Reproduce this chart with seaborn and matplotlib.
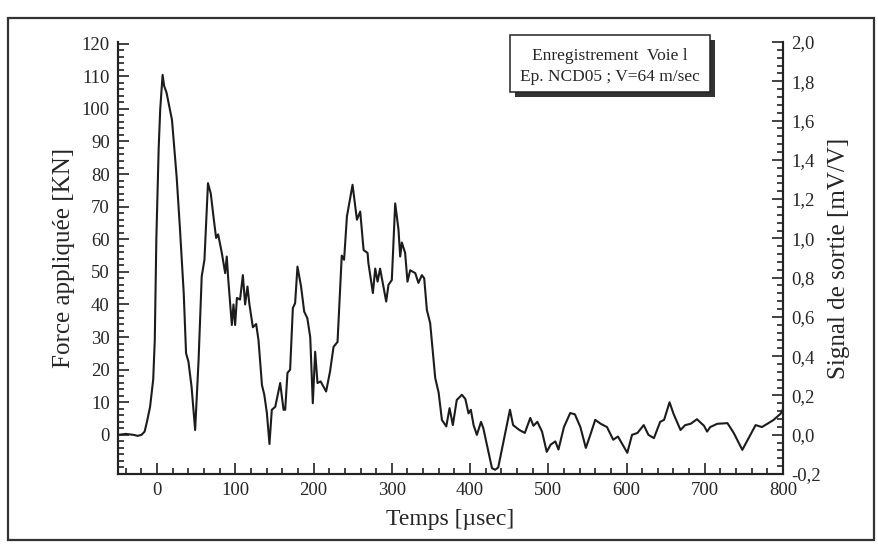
import pandas as pd
import matplotlib.pyplot as plt
import matplotlib.ticker as mticker
from matplotlib.patches import Rectangle
import seaborn as sns

sns.set_style("white")
plt.rcParams['font.family'] = ['Liberation Serif', 'DejaVu Serif']

# force signal (time in µsec, force in kN)
temps = [-50, -40, -30, -25, -20, -16, -13, -9, -5, -3, -1, 2, 4, 7, 9, 12, 19, 25, 29, 34,
         37, 40, 44, 48.6, 53, 57, 60.5, 65, 68.6, 72, 75.4, 78, 82.7, 87, 89, 91, 95.5, 97.6, 99.7, 102,
         106, 109.6, 112.5, 115.5, 118, 122.4, 126.6, 129.6, 134, 137, 140.3, 143.6, 146.6, 151, 157.3, 161.6, 163.7, 166.6, 170, 173.5,
         176.4, 179.4, 184, 188, 192, 195.7, 199, 202, 205, 209, 216, 221, 225.5, 230.6, 236, 239, 242.6, 249.8, 255.4, 259.6,
         263.9, 269, 270, 275.8, 278.8, 281.8, 285, 289.3, 292.8, 295.7, 300, 304.3, 308.5, 310.7, 312.8, 317, 320, 323.5, 330, 334,
         338.4, 341.4, 344.8, 349, 355.5, 359.8, 364, 369.6, 373.8, 378, 383, 389.6, 394, 398, 401, 404.5, 408.7, 414, 417, 422.4,
         428, 432, 436, 445, 451, 455, 463, 470, 477, 481, 486, 492, 498, 503, 509, 513, 520, 528, 534, 541,
         548, 553, 560, 567, 575, 583, 589, 601, 607, 614, 622, 628, 635, 643, 648, 655, 660, 669, 675, 682,
         690, 699, 703, 707, 716, 729, 737, 748, 756, 765, 773, 780, 788, 797, 800]
force = [0, 0.3, 0, -0.3, 0, 1, 4, 8.6, 17, 29, 60, 88, 100, 110.4, 107, 105, 96.6, 79, 64, 43.5,
         25, 22.5, 14.8, 1.5, 23, 48.6, 53.7, 77.2, 74, 67, 60.4, 61.5, 55.8, 49.6, 54.7, 47.5, 33.7, 40, 33.7, 42,
         41.5, 49, 40, 45.5, 40, 33, 34, 29, 15.3, 12.3, 6.7, -2.8, 7.7, 8.6, 15.9, 7.7, 7.7, 19, 20, 38.9,
         40.4, 51.6, 45.5, 37.8, 35.8, 30, 9.7, 25.5, 15.9, 16.4, 13.3, 19.4, 27, 28.5, 55, 53.7, 67, 76.7, 66, 68.5,
         56.7, 55.8, 52.8, 43.5, 51, 47, 51, 45.5, 40.9, 46, 47.5, 71, 63, 54.7, 59, 55.8, 47, 50.5, 49.6, 46.6,
         49, 48, 38.3, 34.3, 17.4, 13, 4.6, 2.6, 8.2, 3, 10.7, 12.3, 11, 6.6, 7.7, 3, 0, 4, 2, -4,
         -10.2, -10.7, -10, 0.6, 7.7, 3, 1.5, 0.6, 5.2, 2.8, 4, 1, -5.2, -3, -2, -4.5, 2.4, 6.7, 6.3, 2.4,
         -4, -0.5, 4.6, 3.4, 2.4, -1.5, -0.5, -5.5, 0, 0.6, 3, 0, -1, 4, 4.6, 10, 6.5, 1.5, 3, 3.4,
         4.8, 2.8, 1, 2.4, 3.4, 3.6, 0.6, -4.6, -1, 3, 2.4, 3.4, 4.6, 6.5, 8]

temps_ticks = [0, 100, 200, 300, 400, 500, 600, 700, 800]
force_ticks = [0, 10, 20, 30, 40, 50, 60, 70, 80, 90, 100, 110, 120]
signal_ticks = [-0.2, 0.0, 0.2, 0.4, 0.6, 0.8, 1.0, 1.2, 1.4, 1.6, 1.8, 2.0]
signal_labels = ['-0,2', '0,0', '0,2', '0,4', '0,6', '0,8', '1,0', '1,2', '1,4', '1,6', '1,8', '2,0']

d = pd.DataFrame({'Temps': temps, 'Force': force})

W, H = 879, 551


def px(x, y):
    return x / W, 1 - y / H


fig = plt.figure(figsize=(W / 100, H / 100), dpi=100)
x0, y0 = px(118, 474)
x1, y1 = px(783, 42)
ax = fig.add_axes([x0, y0, x1 - x0, y1 - y0])

sns.lineplot(data=d, x='Temps', y='Force', ax=ax, color='#1c1c1c', linewidth=1.5, sort=False)

ax.set_xlim(-50, 800)
ax.set_ylim(-12, 120.5)
ax.set_xticks(temps_ticks)
ax.set_xticklabels([str(t) for t in temps_ticks])
ax.set_yticks(force_ticks)
ax.set_yticklabels([str(f) for f in force_ticks])
ax.xaxis.set_minor_locator(mticker.MultipleLocator(20))
ax.yaxis.set_minor_locator(mticker.MultipleLocator(2))
ax.tick_params(which='both', direction='in', width=1.2, color='#222', labelsize=13.5)
ax.tick_params(which='major', length=8, pad=6)
ax.tick_params(which='minor', length=4)
ax.tick_params(axis='y', which='both', left=True, right=False)
ax.tick_params(axis='x', which='both', bottom=True, top=False)
ax.set_xlabel('Temps [µsec]', fontsize=17, labelpad=7)
ax.set_ylabel('Force appliquée [KN]', fontsize=18, labelpad=5)

ax2 = ax.twinx()
ax2.set_ylim(-0.2, 2.0)
ax2.set_yticks(signal_ticks)
ax2.set_yticklabels(signal_labels)
ax2.yaxis.set_minor_locator(mticker.MultipleLocator(0.04))
ax2.tick_params(which='both', direction='in', width=1.2, color='#222', labelsize=13.5)
ax2.tick_params(which='major', length=8, pad=6)
ax2.tick_params(which='minor', length=4)
ax2.set_ylabel('Signal de sortie [mV/V]', fontsize=18, labelpad=5)

for a in (ax, ax2):
    a.spines['top'].set_visible(False)
    for s in ('left', 'right', 'bottom'):
        a.spines[s].set_linewidth(1.5)
        a.spines[s].set_color('#222')

# legend box with drop shadow
bx0, by0 = px(515, 97)
bx1, by1 = px(715, 40)
fig.add_artist(Rectangle((bx0, by0), bx1 - bx0, by1 - by0, transform=fig.transFigure,
                         facecolor='#333', edgecolor='none'))
bx0, by0 = px(510, 92)
bx1, by1 = px(710, 35)
fig.add_artist(Rectangle((bx0, by0), bx1 - bx0, by1 - by0, transform=fig.transFigure,
                         facecolor='white', edgecolor='#222', linewidth=1.1))
tx, ty = px(610, 56)
fig.text(tx, ty, 'Enregistrement  Voie l', ha='center', va='center', fontsize=12.5)
tx, ty = px(610, 77)
fig.text(tx, ty, 'Ep. NCD05 ; V=64 m/sec', ha='center', va='center', fontsize=12.5)

# outer frame of the scanned figure
fx0, fy0 = px(8, 540)
fx1, fy1 = px(874, 18)
fig.add_artist(Rectangle((fx0, fy0), fx1 - fx0, fy1 - fy0, transform=fig.transFigure,
                         facecolor='none', edgecolor='#333', linewidth=1.6))

fig.savefig('out.png', dpi=100)
